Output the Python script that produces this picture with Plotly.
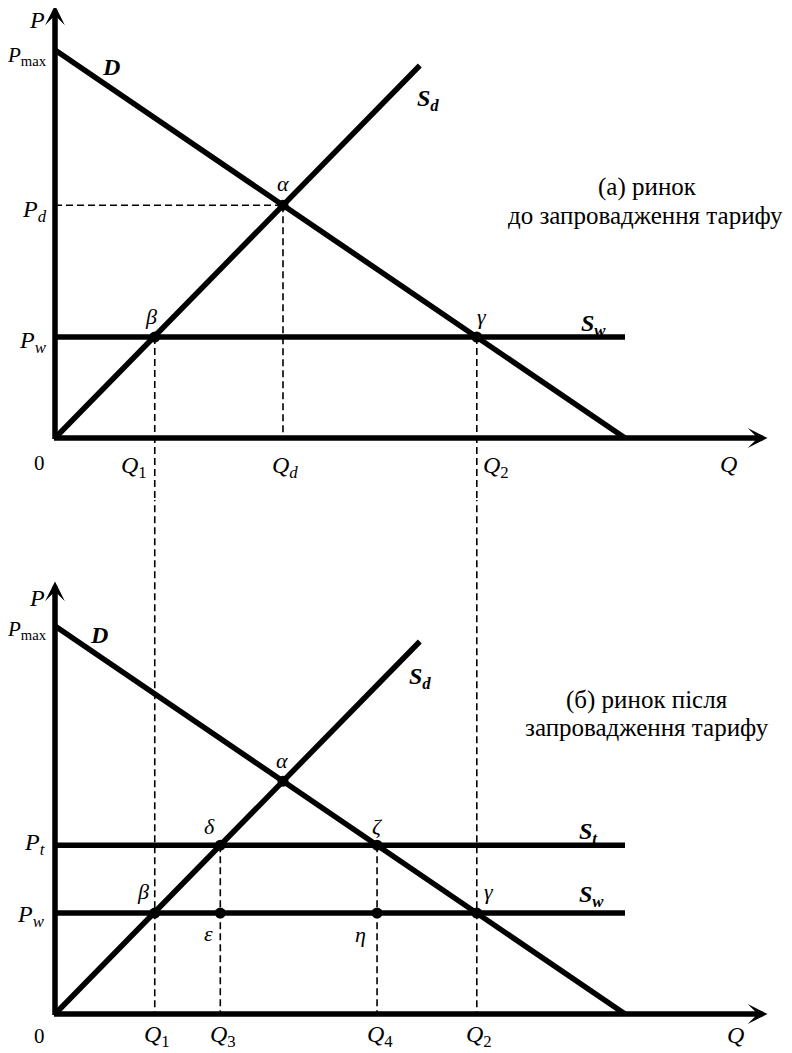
import plotly.graph_objects as go

# ---------------- data (economic units) ----------------
P_MAX = 10.0          # demand intercept on the P axis
Q_MAX = 10.0          # demand intercept on the Q axis
SD_END_Q = 6.4        # end of the domestic supply line
SD_END_P = 9.6
P_W = 2.6             # world price
P_T = 4.35            # price with tariff
P_D = 6.0             # domestic equilibrium price
Q_D = 4.0             # domestic equilibrium quantity
Q_1 = 1.75
Q_2 = 7.4
Q_3 = 2.9
Q_4 = 5.65
AXIS_P_TOP = 11.15
AXIS_Q_END = 12.5

demand_q = [0.0, Q_MAX]
demand_p = [P_MAX, 0.0]
supply_q = [0.0, SD_END_Q]
supply_p = [0.0, SD_END_P]
world_q = [0.0, Q_MAX]
world_p = [P_W, P_W]
tariff_q = [0.0, Q_MAX]
tariff_p = [P_T, P_T]

top_pts_q = [Q_D, Q_1, Q_2]
top_pts_p = [P_D, P_W, P_W]
bot_pts_q = [Q_D, Q_1, Q_2, Q_3, Q_4, Q_3, Q_4]
bot_pts_p = [P_D, P_W, P_W, P_T, P_T, P_W, P_W]

# ---------------- layout geometry (pixels of the window) ----------------
OFF = 8                      # default body margin of the html page
W, H = 792 - OFF, 1053 - OFF # figure size
X0 = 55.0 - OFF              # pixel x of origin (figure frame)
KX = 57.0                    # px per Q unit
KY = 38.8                    # px per P unit
Y0_TOP = 438.0 - OFF         # pixel y of top origin
Y0_BOT = 1014.0 - OFF        # pixel y of bottom origin
SPLIT = 500.0 - OFF          # pixel y where the two panels meet

x_range = [-X0 / KX, (W - X0) / KX]
top_range = [(Y0_TOP - SPLIT) / KY, Y0_TOP / KY]
bot_range = [(Y0_BOT - H) / KY, (Y0_BOT - SPLIT) / KY]
split_paper = 1 - SPLIT / H

FONT = "Liberation Serif"
THICK = 5.5
DASH = dict(color="black", width=1.6, dash="7px,4px")

fig = go.Figure()


def line(q, p, xa, ya, style):
    fig.add_trace(go.Scatter(x=q, y=p, xaxis=xa, yaxis=ya, mode="lines",
                             line=style, hoverinfo="skip", showlegend=False))


solid = dict(color="black", width=THICK)

# top panel ---------------------------------------------------------------
line([0, Q_D], [P_D, P_D], "x", "y", DASH)
line([Q_D, Q_D], [P_D, 0], "x", "y", DASH)
line([Q_1, Q_1], [P_W, top_range[0] - 1], "x", "y", DASH)
line([Q_2, Q_2], [P_W, top_range[0] - 1], "x", "y", DASH)
line(demand_q, demand_p, "x", "y", solid)
line(supply_q, supply_p, "x", "y", solid)
line(world_q, world_p, "x", "y", solid)
fig.add_trace(go.Scatter(x=top_pts_q, y=top_pts_p, xaxis="x", yaxis="y", mode="markers",
                         marker=dict(color="black", size=11), hoverinfo="skip", showlegend=False))

# bottom panel ------------------------------------------------------------
line([Q_1, Q_1], [bot_range[1] + 1, 0], "x2", "y2", DASH)
line([Q_2, Q_2], [bot_range[1] + 1, 0], "x2", "y2", DASH)
line([Q_3, Q_3], [P_T, 0], "x2", "y2", DASH)
line([Q_4, Q_4], [P_T, 0], "x2", "y2", DASH)
line(demand_q, demand_p, "x2", "y2", solid)
line(supply_q, supply_p, "x2", "y2", solid)
line(world_q, world_p, "x2", "y2", solid)
line(tariff_q, tariff_p, "x2", "y2", solid)
fig.add_trace(go.Scatter(x=bot_pts_q, y=bot_pts_p, xaxis="x2", yaxis="y2", mode="markers",
                         marker=dict(color="black", size=11), hoverinfo="skip", showlegend=False))

annotations = []

LBL = 24     # P / Q / S / D labels
GRK = 22     # greek point labels
TTL = 25     # panel titles


def label(text, px, py, anchor="center", size=LBL):
    annotations.append(dict(x=(px - OFF) / W, y=1 - (py - OFF) / H, xref="paper", yref="paper",
                            text=text, showarrow=False, xanchor=anchor, yanchor="middle",
                            font=dict(family=FONT, size=size, color="black")))


# top labels
label("<i>P</i>", 37, 20)
label("<i>P</i><sub>max</sub>", 49, 56, "right", size=21)
label("<b><i>D</i></b>", 111, 67)
label("<b><i>S<sub>d</sub></i></b>", 415, 100, "left")
label("<i>α</i>", 283, 184, size=GRK)
label("<i>P<sub>d</sub></i>", 49, 211, "right")
label("<i>β</i>", 151, 316, size=GRK)
label("<i>γ</i>", 482, 316, size=GRK)
label("<b><i>S<sub>w</sub></i></b>", 579, 325, "left")
label("<i>P<sub>w</sub></i>", 49, 342, "right")
label("0", 40, 463, size=21)
label("<i>Q</i><sub>1</sub>", 149, 467, "right")
label("<i>Q<sub>d</sub></i>", 285, 467)
label("<i>Q</i><sub>2</sub>", 481, 467, "left")
label("<i>Q</i>", 728, 464)
label("(а) ринок", 647, 187, size=TTL)
label("до запровадження тарифу", 645, 215, size=TTL)

# bottom labels
label("<i>P</i>", 37, 598)
label("<i>P</i><sub>max</sub>", 49, 630, "right", size=21)
label("<b><i>D</i></b>", 99, 635)
label("<b><i>S<sub>d</sub></i></b>", 407, 678, "left")
label("(б) ринок після", 647, 700, size=TTL)
label("запровадження тарифу", 647, 727, size=TTL)
label("<i>α</i>", 282, 760, size=GRK)
label("<i>δ</i>", 210, 826, size=GRK)
label("<i>ζ</i>", 377, 826, size=GRK)
label("<b><i>S<sub>t</sub></i></b>", 577, 833, "left")
label("<i>P<sub>t</sub></i>", 47, 844, "right")
label("<i>β</i>", 143, 891, size=GRK)
label("<i>γ</i>", 489, 891, size=GRK)
label("<b><i>S<sub>w</sub></i></b>", 577, 896, "left")
label("<i>P<sub>w</sub></i>", 47, 916, "right")
label("<i>ε</i>", 208, 933, size=GRK)
label("<i>η</i>", 360, 934, size=GRK)
label("0", 40, 1036, size=21)
label("<i>Q</i><sub>1</sub>", 157, 1036)
label("<i>Q</i><sub>3</sub>", 223, 1036)
label("<i>Q</i><sub>4</sub>", 380, 1036)
label("<i>Q</i><sub>2</sub>", 479, 1036)
label("<i>Q</i>", 735, 1035)

# axes with arrows
for xr, yr in (("x", "y"), ("x2", "y2")):
    annotations.append(dict(x=0, y=AXIS_P_TOP, ax=0, ay=-2.5 / KY, xref=xr, yref=yr,
                            axref=xr, ayref=yr, text="", showarrow=True, arrowhead=3,
                            arrowwidth=THICK, arrowsize=0.6, arrowcolor="black", standoff=0))
    annotations.append(dict(x=AXIS_Q_END, y=0, ax=-2.5 / KX, ay=0, xref=xr, yref=yr,
                            axref=xr, ayref=yr, text="", showarrow=True, arrowhead=3,
                            arrowwidth=THICK, arrowsize=0.6, arrowcolor="black", standoff=0))

ax_common = dict(visible=False, showgrid=False, zeroline=False, fixedrange=True)
fig.update_layout(
    width=W, height=H, autosize=False,
    margin=dict(l=0, r=0, t=0, b=0, pad=0),
    paper_bgcolor="white", plot_bgcolor="white",
    showlegend=False,
    font=dict(family=FONT, color="black"),
    xaxis=dict(range=x_range, domain=[0, 1], anchor="y", **ax_common),
    yaxis=dict(range=top_range, domain=[split_paper, 1], anchor="x", **ax_common),
    xaxis2=dict(range=x_range, domain=[0, 1], anchor="y2", **ax_common),
    yaxis2=dict(range=bot_range, domain=[0, split_paper], anchor="x2", **ax_common),
    annotations=annotations,
)

fig.write_html("out.html")
